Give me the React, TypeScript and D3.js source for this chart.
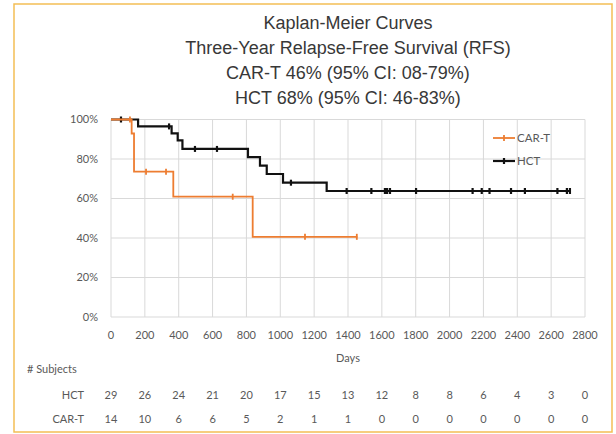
import React from "react";
import * as d3 from "d3";

// title lines
const titleLines = [
  "Kaplan-Meier Curves",
  "Three-Year Relapse-Free Survival (RFS)",
  "CAR-T 46% (95% CI: 08-79%)",
  "HCT 68% (95% CI: 46-83%)",
];

// step points: [day, survival %]
const hctSteps: [number, number][] = [
  [0, 100], [160, 96.5], [358, 93.0], [394, 89.4], [422, 85.1],
  [809, 80.9], [880, 76.6], [920, 72.4], [1016, 68.0], [1274, 63.8], [2715, 63.8],
];
const hctCensored = [59, 343, 496, 626, 1063, 1392, 1538, 1618, 1631, 1648, 1802, 2136, 2190, 2236, 2363, 2445, 2637, 2693, 2711];

const cartSteps: [number, number][] = [
  [0, 100], [122, 92.9], [136, 73.6], [368, 60.9], [837, 40.6], [1455, 40.6],
];
const cartCensored = [112, 207, 325, 719, 1146, 1452];

const xTicks = d3.range(0, 2801, 200);
const yTicks = [0, 20, 40, 60, 80, 100];

// number at risk at each x tick
const hctAtRisk = [29, 26, 24, 21, 20, 17, 15, 13, 12, 8, 8, 6, 4, 3, 0];
const cartAtRisk = [14, 10, 6, 6, 5, 2, 1, 1, 0, 0, 0, 0, 0, 0, 0];

const W = 616;
const H = 434;
const ORANGE = "#ED7D31";
const GRAY = "#595959";
const LABEL_FONT = "Lato, 'Open Sans', sans-serif";

function survAt(steps: [number, number][], t: number) {
  let s = steps[0][1];
  for (const [d, v] of steps) if (d <= t) s = v;
  return s;
}

export default function App() {
  const x = d3.scaleLinear().domain([0, 2800]).range([111, 585]);
  const y = d3.scaleLinear().domain([0, 100]).range([317, 119.5]);

  const line = d3
    .line<[number, number]>()
    .x((d) => x(d[0]))
    .y((d) => y(d[1]))
    .curve(d3.curveStepAfter);

  const series = [
    { name: "HCT", steps: hctSteps, censored: hctCensored, color: "#111", width: 2.2 },
    { name: "CAR-T", steps: cartSteps, censored: cartCensored, color: ORANGE, width: 1.8 },
  ];

  return (
    <svg
      width={W}
      height={H}
      style={{ position: "absolute", left: 0, top: 0, background: "#fff" }}
    >
      <rect x={14} y={4} width={598} height={428} fill="#fff" stroke="#F3BE55" strokeWidth={1.5} />

      {titleLines.map((t, i) => (
        <text
          key={i}
          x={348}
          y={29 + i * 25}
          textAnchor="middle"
          fontFamily="'Liberation Sans', Arial, sans-serif"
          fontSize={18}
          fill="#383838"
        >
          {t}
        </text>
      ))}

      {/* grid */}
      <g stroke="#d9d9d9" strokeWidth={1}>
        {yTicks.map((t) => (
          <line key={"gy" + t} x1={x(0)} x2={x(2800)} y1={y(t)} y2={y(t)} />
        ))}
        {xTicks.map((t) => (
          <line key={"gx" + t} x1={x(t)} x2={x(t)} y1={y(0)} y2={y(100)} />
        ))}
      </g>

      {/* axis labels */}
      <g fontFamily={LABEL_FONT} fontSize={11} fill={GRAY}>
        {yTicks.map((t) => (
          <text key={"yl" + t} x={98} y={y(t)} dy="0.35em" textAnchor="end">
            {t + "%"}
          </text>
        ))}
        {xTicks.map((t) => (
          <text key={"xl" + t} x={x(t)} y={335} dy="0.35em" textAnchor="middle">
            {t}
          </text>
        ))}
        <text x={348} y={358} dy="0.35em" textAnchor="middle">Days</text>
        <text x={27} y={369} dy="0.35em">{"# Subjects"}</text>
        <text x={84} y={395} dy="0.35em" textAnchor="end">HCT</text>
        <text x={84} y={419} dy="0.35em" textAnchor="end">CAR-T</text>
        {hctAtRisk.map((n, i) => (
          <text key={"h" + i} x={x(xTicks[i])} y={395} dy="0.35em" textAnchor="middle">
            {n}
          </text>
        ))}
        {cartAtRisk.map((n, i) => (
          <text key={"c" + i} x={x(xTicks[i])} y={419} dy="0.35em" textAnchor="middle">
            {n}
          </text>
        ))}
      </g>

      {/* curves */}
      {series.map((s) => (
        <g key={s.name}>
          <path d={line(s.steps) || ""} fill="none" stroke={s.color} strokeWidth={s.width} />
          {s.censored.map((t, i) => {
            const cy = y(survAt(s.steps, t));
            return (
              <line
                key={i}
                x1={x(t)}
                x2={x(t)}
                y1={cy - 3}
                y2={cy + 3}
                stroke={s.color}
                strokeWidth={s.width}
              />
            );
          })}
        </g>
      ))}

      {/* legend */}
      {[
        { name: "CAR-T", color: ORANGE, width: 1.8, cy: 138 },
        { name: "HCT", color: "#111", width: 2.2, cy: 161 },
      ].map((l) => (
        <g key={l.name}>
          <line x1={493} x2={515} y1={l.cy} y2={l.cy} stroke={l.color} strokeWidth={l.width} />
          <line x1={504} x2={504} y1={l.cy - 3} y2={l.cy + 3} stroke={l.color} strokeWidth={l.width} />
          <text
            x={517}
            y={l.cy}
            dy="0.35em"
            fontFamily={LABEL_FONT}
            fontSize={11.5}
            fill={GRAY}
          >
            {l.name}
          </text>
        </g>
      ))}
    </svg>
  );
}
